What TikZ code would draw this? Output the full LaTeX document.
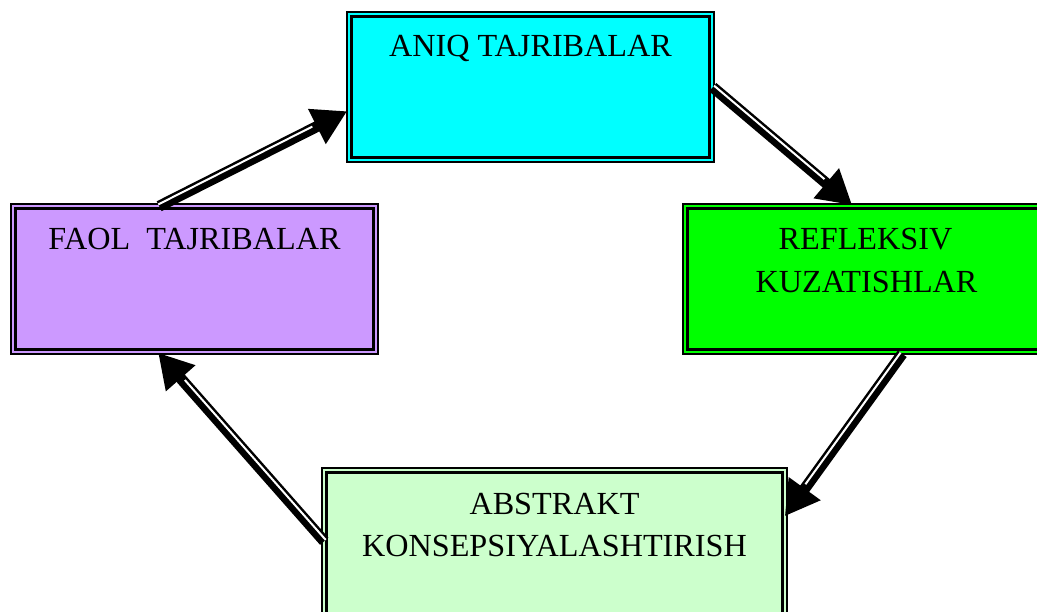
\documentclass[tikz,border=0pt]{standalone}
\usepackage{fontspec}
\setmainfont{Liberation Serif}
\usetikzlibrary{calc,arrows.meta}
\definecolor{aniqc}{RGB}{0,255,255}
\definecolor{faolc}{RGB}{204,153,255}
\definecolor{reflc}{RGB}{0,255,0}
\definecolor{abstc}{RGB}{204,255,204}
\newcommand\cycarrow[4]{%
  \draw[shaft] (#1) -- (#2);
  \draw[stripe] ($(#1)!2pt!#3:(#2)$) -- ($(#2)!2pt!#4:(#1)$);
}
\begin{document}
\begin{tikzpicture}[x=1pt,y=-1pt,
  box/.style={draw=black, line width=1.6pt, rectangle, inner sep=0pt, minimum height=150pt},
  frame/.style={draw=black, line width=3pt},
  lbl/.style={font=\fontsize{32.2}{38}\selectfont, anchor=base, inner sep=0pt},
  shaft/.style={draw=black, line width=11pt, -{Triangle[length=34pt,width=37pt]}},
  stripe/.style={draw=white, line width=2pt, shorten >=38pt}]
\path[use as bounding box, clip] (0,0) rectangle (1037,611);

% boxes
\node[box, fill=aniqc, minimum width=367pt] (aniq) at (530.5,87) {};
\node[box, fill=faolc, minimum width=367pt] (faol) at (194.5,279) {};
\node[box, fill=reflc, minimum width=367pt] (refl) at (866.5,279) {};
\node[box, fill=abstc, minimum width=465pt] (abst) at (554.5,543) {};

\foreach \b in {aniq,faol,refl,abst}{
  \draw[frame] ($(\b.north west)+(5.5,5.5)$) rectangle ($(\b.south east)+(-5.5,-5.5)$);
}

% texts
\node[lbl] (aniqt) at ($(aniq.north)+(0,45)$) {ANIQ TAJRIBALAR};
\node[lbl] (faolt) at ($(faol.north)+(0,46)$) {FAOL\ \ TAJRIBALAR};
\node[lbl] (reflt1) at ($(refl.north)+(-1,46)$) {REFLEKSIV};
\node[lbl] (reflt2) at ($(refl.north)+(0,89)$) {KUZATISHLAR};
\node[lbl] (abstt1) at ($(abst.north)+(0,47)$) {ABSTRAKT};
\node[lbl] (abstt2) at ($(abst.north)+(0,89)$) {KONSEPSIYALASHTIRISH};

% arrow end points
\coordinate (a1s) at ($(faol.north west)+(149,3)$);
\coordinate (a1e) at ($(aniq.north west)+(1,100)$);
\coordinate (a2s) at ($(aniq.north east)+(-2,76)$);
\coordinate (a2e) at ($(refl.north west)+(170,2)$);
\coordinate (a3s) at ($(refl.south west)+(220,-1)$);
\coordinate (a3e) at ($(abst.north east)+(-3,49)$);
\coordinate (a4s) at ($(abst.north west)+(3,74)$);
\coordinate (a4e) at ($(faol.south west)+(148,-2)$);

% arrows
\cycarrow{a1s}{a1e}{90}{-90}
\cycarrow{a2s}{a2e}{90}{-90}
\cycarrow{a3s}{a3e}{-90}{90}
\cycarrow{a4s}{a4e}{-90}{90}
\end{tikzpicture}
\end{document}
